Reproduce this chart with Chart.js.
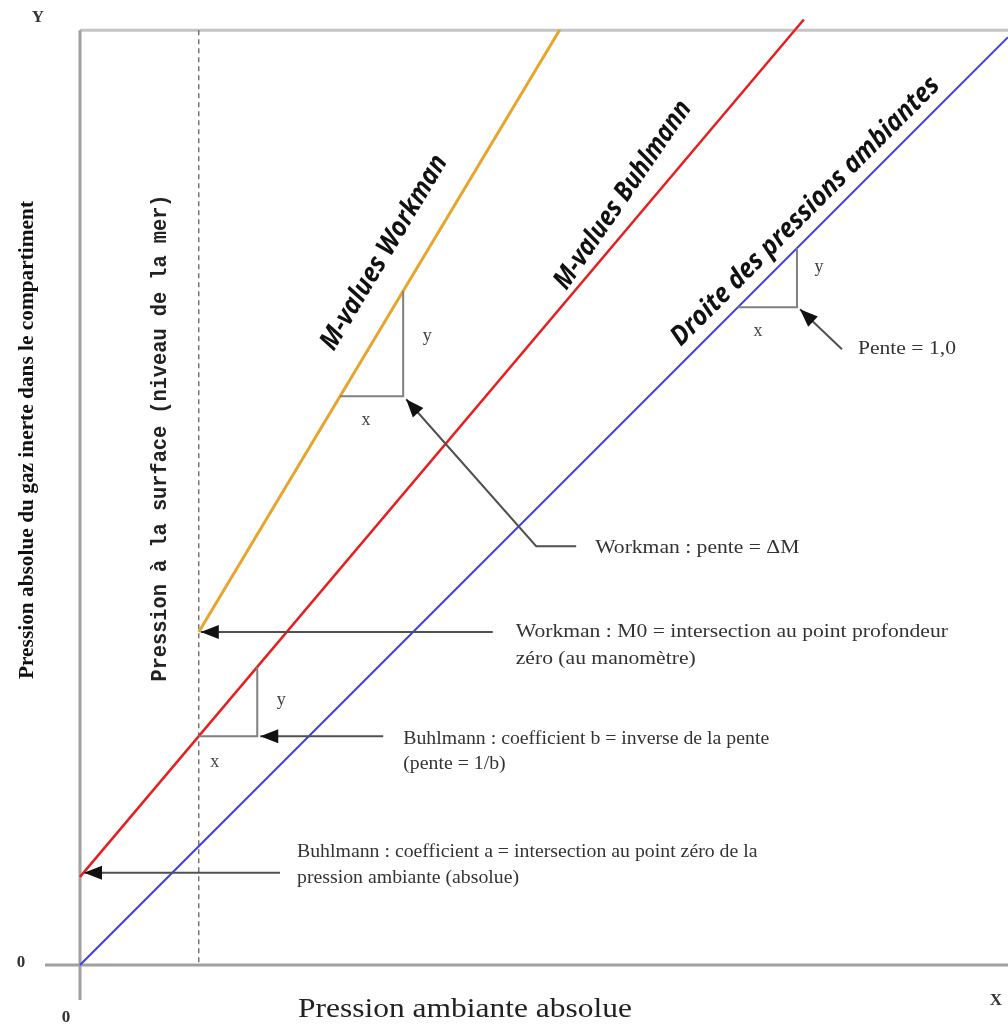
<!DOCTYPE html>
<html>
<head>
<meta charset="utf-8">
<script src="https://cdn.jsdelivr.net/npm/chart.js@4.4.0/dist/chart.umd.min.js"></script>
<style>
html, body { margin: 0; padding: 0; background: #fff; }
</style>
</head>
<body>
<canvas id="chart" width="1008" height="1031"></canvas>
<script>
// pression ambiante (x) / pression du gaz inerte (y), unites arbitraires
var surfacePressure = 1.28;
var ambientX = [0, 10];
var ambientY = [0, 10];
var buhlmannX = [0, 7.8];
var buhlmannY = [0.95, 10.19];
var workmanX = [surfacePressure, 5.17];
var workmanY = [3.59, 10.08];
var yTop = 10.075;

var lineLabels = ['M-values Workman', 'M-values Buhlmann', 'Droite des pressions ambiantes'];
var xTitle = 'Pression ambiante absolue';
var yTitle = 'Pression absolue du gaz inerte dans le compartiment';
var surfaceLabel = 'Pression à la surface (niveau de la mer)';
var notes = {
  workmanSlope: ['Workman : pente = ΔM'],
  ambientSlope: ['Pente = 1,0'],
  workmanM0: ['Workman : M0 = intersection au point profondeur', 'zéro (au manomètre)'],
  buhlmannB: ['Buhlmann : coefficient b = inverse de la pente', '(pente = 1/b)'],
  buhlmannA: ['Buhlmann : coefficient a = intersection au point zéro de la', 'pression ambiante (absolue)']
};

function toPoints(xs, ys) {
  var pts = [];
  for (var i in xs) pts.push({x: xs[i], y: ys[i]});
  return pts;
}
function lineAt(xs, ys, x) {
  var s = (ys[1] - ys[0]) / (xs[1] - xs[0]);
  return ys[0] + s * (x - xs[0]);
}
function xAt(xs, ys, y) {
  var s = (ys[1] - ys[0]) / (xs[1] - xs[0]);
  return xs[0] + (y - ys[0]) / s;
}

var drawPlugin = {
  id: 'drawing',
  beforeDatasetsDraw: function(chart) {
    var ctx = chart.ctx, sx = chart.scales.x, sy = chart.scales.y;
    var X = function(v) { return sx.getPixelForValue(v); };
    var Y = function(v) { return sy.getPixelForValue(v); };
    ctx.save();
    // cadre
    ctx.lineCap = 'butt';
    ctx.strokeStyle = '#c4c4c4';
    ctx.lineWidth = 3;
    ctx.beginPath(); ctx.moveTo(X(0), Y(yTop)); ctx.lineTo(X(10), Y(yTop)); ctx.stroke();
    ctx.strokeStyle = '#a0a0a0';
    ctx.beginPath(); ctx.moveTo(X(0), Y(yTop)); ctx.lineTo(X(0), Y(0) + 35); ctx.stroke();
    ctx.beginPath(); ctx.moveTo(X(0) - 35, Y(0)); ctx.lineTo(X(10), Y(0)); ctx.stroke();
    // niveau de la mer
    ctx.strokeStyle = '#555';
    ctx.lineWidth = 1.2;
    ctx.setLineDash([5, 4]);
    ctx.beginPath(); ctx.moveTo(X(surfacePressure), Y(yTop)); ctx.lineTo(X(surfacePressure), Y(0)); ctx.stroke();
    ctx.setLineDash([]);
    ctx.restore();
  },
  afterDatasetsDraw: function(chart) {
    var ctx = chart.ctx, sx = chart.scales.x, sy = chart.scales.y;
    var X = function(v) { return sx.getPixelForValue(v); };
    var Y = function(v) { return sy.getPixelForValue(v); };
    ctx.save();

    function triangle(xs, ys, x0, dx) {
      var y0 = lineAt(xs, ys, x0);
      var y1 = lineAt(xs, ys, x0 + dx);
      ctx.strokeStyle = '#808080';
      ctx.lineWidth = 2;
      ctx.beginPath();
      ctx.moveTo(X(x0), Y(y0));
      ctx.lineTo(X(x0 + dx), Y(y0));
      ctx.lineTo(X(x0 + dx), Y(y1));
      ctx.stroke();
      return {x: X(x0 + dx), y: Y(y0), x0: X(x0), top: Y(y1)};
    }
    function arrow(pts) {
      ctx.strokeStyle = '#505050';
      ctx.fillStyle = '#111';
      ctx.lineWidth = 2;
      ctx.beginPath();
      ctx.moveTo(pts[0][0], pts[0][1]);
      for (var i = 1; i < pts.length; i++) ctx.lineTo(pts[i][0], pts[i][1]);
      ctx.stroke();
      var a = pts[pts.length - 2], b = pts[pts.length - 1];
      var ang = Math.atan2(b[1] - a[1], b[0] - a[0]);
      ctx.save();
      ctx.translate(b[0], b[1]);
      ctx.rotate(ang);
      ctx.beginPath();
      ctx.moveTo(0, 0); ctx.lineTo(-18, -7); ctx.lineTo(-18, 7); ctx.closePath();
      ctx.fill();
      ctx.restore();
    }
    // texte un peu etire en largeur
    function text(lines, x, y, lh, stretch) {
      ctx.font = '18px "Liberation Serif"';
      ctx.fillStyle = '#333';
      ctx.textAlign = 'left';
      ctx.textBaseline = 'middle';
      for (var i = 0; i < lines.length; i++) {
        ctx.save();
        ctx.translate(x, y + i * lh);
        ctx.scale(stretch, 1);
        ctx.fillText(lines[i], 0, 0);
        ctx.restore();
      }
    }
    function letter(s, x, y) {
      ctx.font = '18px "Liberation Serif"';
      ctx.fillStyle = '#444';
      ctx.textAlign = 'center';
      ctx.textBaseline = 'middle';
      ctx.fillText(s, x, y);
    }
    function rotated(s, cx, cy, ang, font, width, color) {
      ctx.save();
      ctx.translate(cx, cy);
      ctx.rotate(ang);
      ctx.font = font;
      ctx.fillStyle = color;
      ctx.textAlign = 'center';
      ctx.textBaseline = 'middle';
      var w = ctx.measureText(s).width;
      ctx.scale(width / w, 1);
      ctx.fillText(s, 0, 0);
      ctx.restore();
    }
    function lineLabel(s, xs, ys, yv, off, width, tilt) {
      var xv = xAt(xs, ys, yv);
      var px = X(xv), py = Y(yv);
      var ang = Math.atan2(Y(ys[1]) - Y(ys[0]), X(xs[1]) - X(xs[0]));
      var nx = Math.sin(ang), ny = -Math.cos(ang);
      rotated(s, px + nx * off, py + ny * off, ang - (tilt || 0), 'italic bold 27px "Open Sans"', width, '#111');
    }

    // triangles de pente
    var tw = triangle(workmanX, workmanY, xAt(workmanX, workmanY, 6.13), 0.68);
    letter('y', tw.x + 24, tw.y - 60);
    letter('x', tw.x0 + 26, tw.y + 24);
    var ta = triangle(ambientX, ambientY, 7.09, 0.636);
    letter('y', ta.x + 22, ta.y - 40);
    letter('x', ta.x0 + 20, ta.y + 24);
    var tb = triangle(buhlmannX, buhlmannY, surfacePressure, 0.63);
    letter('y', tb.x + 24, tb.y - 36);
    letter('x', tb.x0 + 16, tb.y + 26);

    // fleches
    var t = [tw.x + 3, tw.y + 3];
    arrow([[t[0] + 170, t[1] + 147], [t[0] + 130, t[1] + 147], t]);
    text(notes.workmanSlope, t[0] + 189, t[1] + 149, 26, 1.2);

    t = [ta.x + 3, ta.y + 2];
    arrow([[t[0] + 42, t[1] + 40], t]);
    text(notes.ambientSlope, t[0] + 58, t[1] + 40, 26, 1.2);

    t = [X(workmanX[0]) + 2, Y(workmanY[0])];
    arrow([[t[0] + 292, t[1]], t]);
    text(notes.workmanM0, t[0] + 315, t[1], 27, 1.2);

    t = [tb.x + 3, tb.y];
    arrow([[t[0] + 123, t[1]], t]);
    text(notes.buhlmannB, t[0] + 143, t[1] + 3, 25, 1.1);

    t = [X(buhlmannX[0]) + 4, Y(buhlmannY[0]) - 4];
    arrow([[t[0] + 196, t[1]], t]);
    text(notes.buhlmannA, t[0] + 213, t[1] - 21, 26, 1.1);

    // libelles des droites
    lineLabel(lineLabels[0], workmanX, workmanY, 7.48, 36, 222, 0);
    lineLabel(lineLabels[1], buhlmannX, buhlmannY, 8.125, 25, 222, 0.1);
    lineLabel(lineLabels[2], ambientX, ambientY, 7.97, 20, 368, 0);

    // titres
    rotated(yTitle, 28, 440, -Math.PI / 2, 'bold 21px "Liberation Serif"', 478, '#111');
    rotated(surfaceLabel, 160, 438, -Math.PI / 2, 'bold 22px "Liberation Mono"', 487, '#222');
    rotated(xTitle, 465, 1010, 0, '28px "Liberation Serif"', 334, '#222');

    ctx.font = 'bold 17px "Liberation Serif"';
    ctx.fillStyle = '#333';
    ctx.textAlign = 'center';
    ctx.textBaseline = 'middle';
    ctx.fillText('Y', 38, 18);
    ctx.fillText('X', 996, 1001);
    ctx.fillText('0', 21, 963);
    ctx.fillText('0', 66, 1018);
    ctx.restore();
  }
};

var ctx = document.getElementById('chart').getContext('2d');
var chart = new Chart(ctx, {
  type: 'scatter',
  data: {
    datasets: [
      {
        label: lineLabels[2],
        data: toPoints(ambientX, ambientY),
        showLine: true,
        borderColor: 'rgba(60,60,235,1)',
        borderWidth: 2,
        pointRadius: 0,
        clip: false
      },
      {
        label: lineLabels[1],
        data: toPoints(buhlmannX, buhlmannY),
        showLine: true,
        borderColor: 'rgba(232,30,30,1)',
        borderWidth: 2.5,
        pointRadius: 0,
        clip: false
      },
      {
        label: lineLabels[0],
        data: toPoints(workmanX, workmanY),
        showLine: true,
        borderColor: 'rgba(232,165,45,1)',
        borderWidth: 3,
        pointRadius: 0,
        clip: false
      }
    ]
  },
  options: {
    responsive: false,
    animation: false,
    layout: { padding: { left: 80, right: 0, top: 14, bottom: 66 } },
    plugins: { legend: { display: false }, tooltip: { enabled: false } },
    scales: {
      x: { type: 'linear', min: 0, max: 10, display: false },
      y: { type: 'linear', min: 0, max: 10.25, display: false }
    }
  },
  plugins: [drawPlugin]
});
</script>
</body>
</html>
